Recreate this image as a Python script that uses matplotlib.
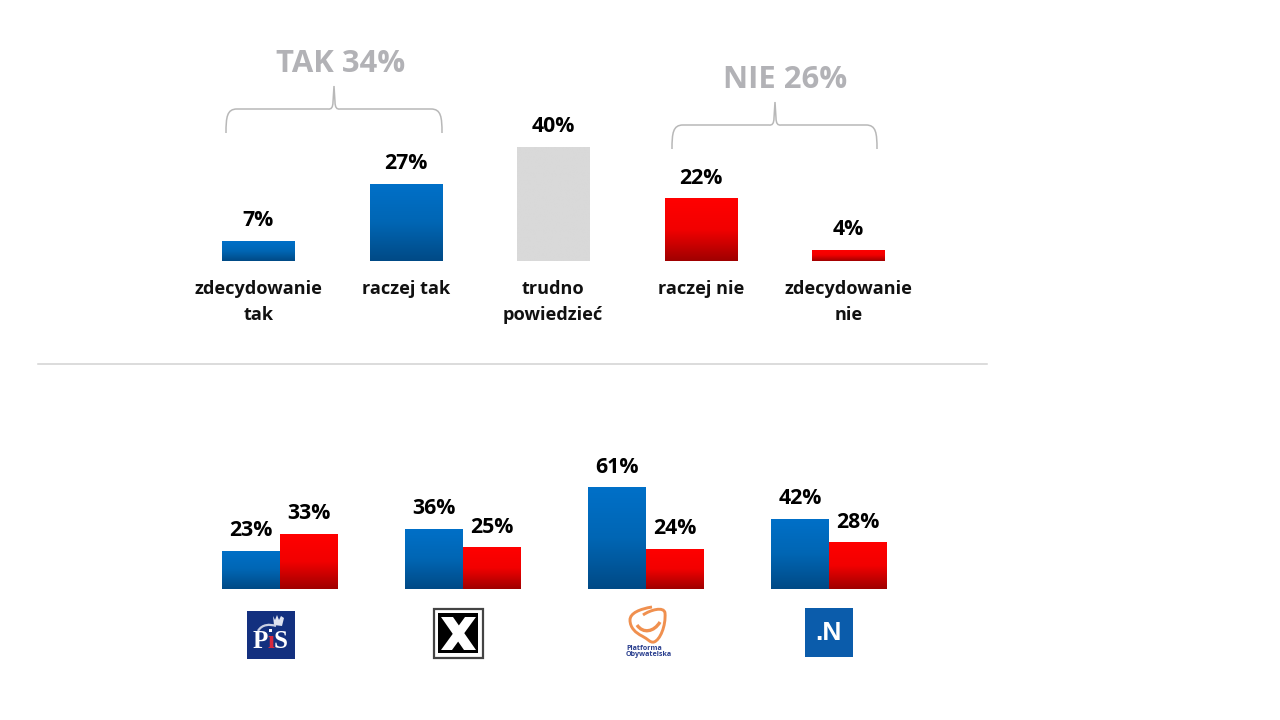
import numpy as np
import matplotlib
matplotlib.use("Agg")
import matplotlib.pyplot as plt
from matplotlib.colors import LinearSegmentedColormap
from matplotlib.patches import Rectangle, PathPatch
from matplotlib.path import Path

# ─── Data ───────────────────────────────────────────────
answer_labels = ["zdecydowanie\ntak", "raczej tak", "trudno\npowiedzieć", "raczej nie", "zdecydowanie\nnie"]
answer_values = [7, 27, 40, 22, 4]
answer_kinds = ["blue", "blue", "grey", "red", "red"]

party_names = ["PiS", "Kukiz", "PO", "N"]
party_tak = [23, 36, 61, 42]
party_nie = [33, 25, 24, 28]

tak_label = "TAK 34%"
nie_label = "NIE 26%"

# ─── Config ─────────────────────────────────────────────
W, H = 1280, 720
plt.rcParams["font.family"] = ["Open Sans", "DejaVu Sans"]
text_dark = "#000000"
text_grey = "#b2b2b6"
bracket_grey = "#b8b8b8"

cmaps = {
    "blue": LinearSegmentedColormap.from_list("b", [(0, "#0070c8"), (0.5, "#0066b4"), (1, "#004a86")]),
    "red": LinearSegmentedColormap.from_list("r", [(0, "#ff0000"), (0.5, "#f20000"), (1, "#a00000")]),
    "grey": LinearSegmentedColormap.from_list("g", ["#d9d9d9", "#d9d9d9"]),
}
ramp = np.linspace(0, 1, 64).reshape(-1, 1)


def px_axes(fig, left, top, right, bottom):
    return fig.add_axes([left / W, 1 - bottom / H, (right - left) / W, (bottom - top) / H])


def gradient_bars(ax, bars, kinds):
    # bars get a vertical gradient, the bar itself is only the clip shape
    for bar, kind in zip(bars, kinds):
        x0, y0 = bar.get_x(), bar.get_y()
        im = ax.imshow(ramp, cmap=cmaps[kind], aspect="auto", vmin=0, vmax=1,
                       extent=[x0, x0 + bar.get_width(), y0, y0 + bar.get_height()],
                       interpolation="bilinear", zorder=2)
        im.set_clip_path(bar)
        bar.set_facecolor("none")


# ─── Top chart ──────────────────────────────────────────
fig = plt.figure(figsize=(W / 100, H / 100), dpi=100, facecolor="white")

ax1 = px_axes(fig, 184.5, 118.5, 922, 261)
x1 = np.arange(len(answer_values))
bars1 = ax1.bar(x1, answer_values, width=0.49, linewidth=0)
gradient_bars(ax1, bars1, answer_kinds)
ax1.set_xlim(-0.5, 4.5)
ax1.set_ylim(0, 50)
ax1.axis("off")
for i, v in enumerate(answer_values):
    ax1.annotate(f"{v}%", (x1[i], v), xytext=(0, 6.9), textcoords="offset points",
                 ha="center", va="bottom", fontsize=15.3, fontweight="bold",
                 color=text_dark, annotation_clip=False)
for i, lab in enumerate(answer_labels):
    ax1.annotate(lab, (x1[i], 0), xytext=(0, -14), textcoords="offset points",
                 ha="center", va="top", fontsize=13.1, fontweight="bold",
                 color="#111111", linespacing=1.53, annotation_clip=False)

# ─── Bottom chart ───────────────────────────────────────
ax2 = px_axes(fig, 188.5, 489, 920.5, 589)
x2 = np.arange(len(party_names))
bw = 0.315
bars_t = ax2.bar(x2 - bw / 2, party_tak, width=bw, linewidth=0)
bars_n = ax2.bar(x2 + bw / 2, party_nie, width=bw, linewidth=0)
gradient_bars(ax2, bars_t, ["blue"] * 4)
gradient_bars(ax2, bars_n, ["red"] * 4)
ax2.set_xlim(-0.5, 3.5)
ax2.set_ylim(0, 60)
ax2.axis("off")
for i in range(4):
    for off, v in ((-bw / 2, party_tak[i]), (bw / 2, party_nie[i])):
        ax2.annotate(f"{v}%", (x2[i] + off, v), xytext=(0, 6.9), textcoords="offset points",
                     ha="center", va="bottom", fontsize=15.3, fontweight="bold",
                     color=text_dark, annotation_clip=False)

# ─── Overlay in pixel coords: brackets, rule, logos ─────
ov = fig.add_axes([0, 0, 1, 1], zorder=5)
ov.set_xlim(0, W)
ov.set_ylim(H, 0)
ov.axis("off")
ov.patch.set_alpha(0)

M, L, C3, C4 = Path.MOVETO, Path.LINETO, Path.CURVE3, Path.CURVE4


def brace(x0, x1, xm, y_low, y_mid, y_top):
    verts = [(x0, y_low), (x0, y_mid + 8), (x0 + 1, y_mid), (x0 + 11, y_mid),
             (xm - 6, y_mid), (xm - 1, y_mid + 1), (xm - 1, y_mid - 7), (xm, y_top),
             (xm + 1, y_mid - 7), (xm + 1, y_mid + 1), (xm + 6, y_mid),
             (x1 - 11, y_mid), (x1 - 1, y_mid), (x1, y_mid + 8), (x1, y_low)]
    codes = [M, C4, C4, C4, L, C3, C3, L, L, C3, C3, L, C4, C4, C4]
    ov.add_patch(PathPatch(Path(verts, codes), fill=False, ec=bracket_grey, lw=1.1))


brace(226, 442, 334, 133, 109, 86)
brace(672, 877, 775, 149, 125, 102)
ov.text(341, 64, tak_label, ha="center", va="center", fontsize=22.3, fontweight="bold", color=text_grey)
ov.text(785, 80, nie_label, ha="center", va="center", fontsize=22.3, fontweight="bold", color=text_grey)
ov.plot([38, 987], [364, 364], color="#d2d2d2", lw=1.1)

# PiS
ov.add_patch(Rectangle((247, 611), 48, 48, fc="#13307f", ec="none"))
for xt, ch, col, fs in [(260, "P", "white", 18), (270.5, "ı", "#d8283c", 18), (281, "S", "white", 18)]:
    ov.text(xt, 642, ch, ha="center", va="center", fontsize=fs, fontweight="bold",
            family="Liberation Serif", color=col)
crown_x = [273, 275, 277, 279, 281, 284, 282, 274, 273]
crown_y = [616, 620, 615, 620, 616, 618, 626, 625, 616]
ov.fill(crown_x, crown_y, fc="#dfe3f0", ec="none")
swoosh = Path([(258, 631), (262, 624), (270, 624), (276, 626)], [M, C4, C4, C4])
ov.add_patch(PathPatch(swoosh, fill=False, ec="#c9cfe2", lw=1.6))
ov.add_patch(Rectangle((269, 629), 3, 3, fc="white", ec="none"))

# Kukiz
ov.add_patch(Rectangle((433.5, 608.5), 49, 49, fc="white", ec="#444444", lw=1.6))
ov.add_patch(Rectangle((438, 613), 40, 40, fc="black", ec="none"))
ov.fill([441, 453, 476, 464], [617, 617, 650, 650], fc="white", ec="none")
ov.fill([465, 476, 452, 441], [617, 617, 650, 650], fc="white", ec="none")

# PO
po_path = Path([(652, 607), (640, 609), (630, 613), (630, 620),
                (630, 628), (636, 633), (642, 636),
                (648, 639), (650, 643), (654, 642),
                (660, 640), (666, 626), (665, 613),
                (664, 606), (650, 610), (643, 615)],
               [M, C4, C4, C4, C4, C4, C4, C4, C4, C4, C4, C4, C4, C4, C4, C4])
ov.add_patch(PathPatch(po_path, fill=False, ec="#f0904f", lw=2.1))
smile = Path([(637, 625), (643, 634), (654, 632), (660, 622)], [M, C4, C4, C4])
ov.add_patch(PathPatch(smile, fill=False, ec="#f0904f", lw=2.4))
ov.text(626, 651.5, "Platforma\nObywatelska", ha="left", va="center", fontsize=5.1, fontweight="bold",
        color="#2a3f8f", linespacing=0.85)

# Nowoczesna
ov.add_patch(Rectangle((805, 608), 48, 49, fc="#0b5cab", ec="none"))
ov.text(828.5, 633.5, ".N", ha="center", va="center", fontsize=19, fontweight="bold", color="white",
        family="Liberation Sans")

fig.savefig("out.png", dpi=100)
